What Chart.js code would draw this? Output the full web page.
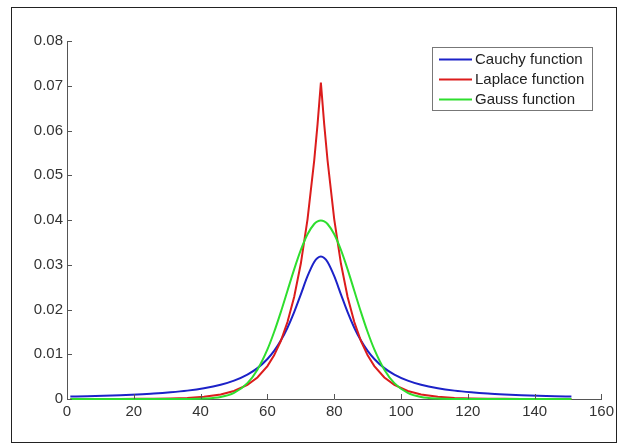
<!DOCTYPE html>
<html>
<head>
<meta charset="utf-8">
<script src="https://cdn.jsdelivr.net/npm/chart.js@4/dist/chart.umd.min.js"></script>
<style>
  html, body { margin: 0; padding: 0; background: #fff; }
  #wrap { position: relative; width: 618px; height: 445px; }
  #frame { position: absolute; left: 11px; top: 7px; width: 604px; height: 434px; border: 1px solid #222; pointer-events: none; }
  canvas { position: absolute; left: 0; top: 0; }
</style>
</head>
<body>
<div id="wrap">
  <canvas id="myChart" width="618" height="445"></canvas>
  <div id="frame"></div>
</div>
<script>
const xValues = [1, 6, 11, 16, 21, 26, 31, 36, 41, 46, 50, 54, 57, 60, 62, 64, 66, 68, 70, 72, 74, 75, 76,
  77, 78, 80, 82, 84, 86, 88, 90, 92, 95, 98, 102, 106, 111, 116, 121, 126, 131, 136, 141, 146, 151];

const cauchy = [0.00056, 0.00064, 0.00074, 0.00086, 0.00102, 0.00122, 0.00150, 0.00187, 0.00240, 0.00318,
  0.00410, 0.00545, 0.00690, 0.00894, 0.01075, 0.01305, 0.01592, 0.01941, 0.02340, 0.02744, 0.03061, 0.03152, 0.03183,
  0.03152, 0.03061, 0.02744, 0.02340, 0.01941, 0.01592, 0.01305, 0.01075, 0.00894, 0.00690, 0.00545, 0.00410, 0.00318,
  0.00240, 0.00187, 0.00150, 0.00122, 0.00102, 0.00086, 0.00074, 0.00064, 0.00056];

const laplace = [0, 0, 0.00001, 0.00001, 0.00003, 0.00006, 0.00012, 0.00025, 0.00050, 0.00102,
  0.00179, 0.00315, 0.00482, 0.00736, 0.00976, 0.01295, 0.01719, 0.02281, 0.03027, 0.04016, 0.05329, 0.06138, 0.07071,
  0.06138, 0.05329, 0.04016, 0.03027, 0.02281, 0.01719, 0.01295, 0.00976, 0.00736, 0.00482, 0.00315, 0.00179, 0.00102,
  0.00050, 0.00025, 0.00012, 0.00006, 0.00003, 0.00001, 0.00001, 0, 0];

const gauss = [0, 0, 0, 0, 0, 0, 0, 0.00001, 0.00009, 0.00044,
  0.00136, 0.00355, 0.00656, 0.01109, 0.01497, 0.01942, 0.02419, 0.02897, 0.03332, 0.03682, 0.03910, 0.03969, 0.03989,
  0.03969, 0.03910, 0.03682, 0.03332, 0.02897, 0.02419, 0.01942, 0.01497, 0.01109, 0.00656, 0.00355, 0.00136, 0.00044,
  0.00009, 0.00001, 0, 0, 0, 0, 0, 0, 0];

const seriesNames = ["Cauchy function", "Laplace function", "Gauss function"];
const seriesColors = ["#1c22c8", "#dc1c1c", "#2ede2e"];

const toPoints = (ys) => xValues.map((x, i) => ({x: x, y: ys[i]}));

const tickFont = {family: "'Liberation Sans', Arial, sans-serif", size: 15};

// inward tick marks like the original plot
const innerTicks = {
  id: 'innerTicks',
  afterDatasetsDraw(chart) {
    const ctx = chart.ctx;
    const xs = chart.scales.x, ys = chart.scales.y;
    const area = chart.chartArea;
    ctx.save();
    ctx.strokeStyle = '#555';
    ctx.lineWidth = 1;
    ctx.beginPath();
    xs.ticks.forEach((t, i) => {
      const px = Math.round(xs.getPixelForTick(i)) + 0.5;
      ctx.moveTo(px, area.bottom);
      ctx.lineTo(px, area.bottom - 5);
    });
    ys.ticks.forEach((t, i) => {
      const py = Math.round(ys.getPixelForTick(i)) + 0.5;
      ctx.moveTo(area.left, py);
      ctx.lineTo(area.left + 5, py);
    });
    ctx.stroke();
    ctx.restore();
  }
};

// boxed legend inside the plot, top right
const boxLegend = {
  id: 'boxLegend',
  afterDraw(chart) {
    const ctx = chart.ctx;
    const left = 432, top = 47, w = 160, h = 63;
    ctx.save();
    ctx.fillStyle = '#fff';
    ctx.fillRect(left, top, w, h);
    ctx.strokeStyle = '#777';
    ctx.lineWidth = 1;
    ctx.strokeRect(left + 0.5, top + 0.5, w, h);
    ctx.font = "15px 'Liberation Sans', Arial, sans-serif";
    ctx.textBaseline = 'middle';
    chart.data.datasets.forEach((ds, i) => {
      const y = 59.5 + i * 20;
      ctx.strokeStyle = ds.borderColor;
      ctx.lineWidth = 2;
      ctx.beginPath();
      ctx.moveTo(439, y);
      ctx.lineTo(472, y);
      ctx.stroke();
      ctx.fillStyle = '#222';
      ctx.fillText(ds.label, 475, y + 0.5);
    });
    ctx.restore();
  }
};

const ctx = document.getElementById("myChart").getContext("2d");
const chart = new Chart(ctx, {
  type: 'line',
  data: {
    datasets: [
      {label: seriesNames[0], data: toPoints(cauchy), borderColor: seriesColors[0], order: 2, cubicInterpolationMode: 'monotone'},
      {label: seriesNames[1], data: toPoints(laplace), borderColor: seriesColors[1], order: 1, tension: 0},
      {label: seriesNames[2], data: toPoints(gauss), borderColor: seriesColors[2], order: 0, cubicInterpolationMode: 'monotone'}
    ]
  },
  options: {
    responsive: false,
    animation: false,
    layout: {padding: {left: 0, top: 41, right: 15, bottom: 0}},
    elements: {
      line: {borderWidth: 2, fill: false},
      point: {radius: 0, hoverRadius: 0}
    },
    datasets: {line: {clip: 6}},
    plugins: {legend: {display: false}, tooltip: {enabled: false}},
    scales: {
      x: {
        type: 'linear',
        min: 0, max: 160,
        ticks: {stepSize: 20, color: '#333', font: tickFont, padding: 4, maxRotation: 0},
        grid: {display: false, drawTicks: false},
        border: {color: '#555', width: 1},
        afterFit(scale) { scale.height = 46; }
      },
      y: {
        min: 0, max: 0.08,
        ticks: {
          stepSize: 0.01, color: '#333', font: tickFont, padding: 4,
          callback: (v) => v === 0 ? '0' : v.toFixed(2)
        },
        grid: {display: false, drawTicks: false},
        border: {color: '#555', width: 1},
        afterFit(scale) { scale.width = 67; }
      }
    }
  },
  plugins: [innerTicks, boxLegend]
});
</script>
</body>
</html>
